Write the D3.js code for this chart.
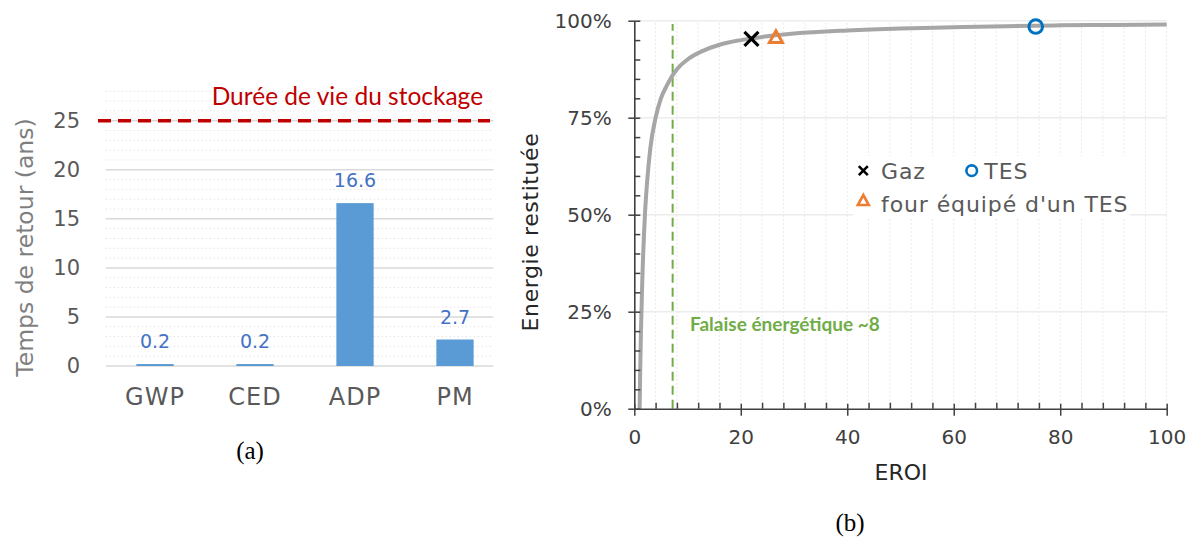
<!DOCTYPE html>
<html><head><meta charset="utf-8">
<script src="https://cdn.jsdelivr.net/npm/d3@7"></script>
<style>body{margin:0;background:#fff;} svg{display:block;}</style>
</head><body><svg id="c" width="1195" height="539"></svg>
<script>
// ---------- DATA ----------
const categories = ["GWP", "CED", "ADP", "PM"];
const paybackYears = [0.2, 0.2, 16.6, 2.7];
const leftTicks = [0, 5, 10, 15, 20, 25];
const lifetimeYears = 25;
const lifetimeLabel = "Durée de vie du stockage";

const eroiCurveX = [1, 1.1, 1.25, 1.5, 2, 2.5, 3, 4, 5, 6, 8, 10, 13, 16, 20, 25, 30, 40, 50, 60, 70, 80, 90, 100];
const eroiCurveY = [0, 9, 20, 33, 50, 60, 67, 75, 80, 83, 87.5, 90, 92.3, 93.8, 95, 96, 96.7, 97.5, 98, 98.3, 98.6, 98.8, 98.9, 99];
const markerNames = ["Gaz", "four équipé d'un TES", "TES"];
const markerEroi = [22, 26.6, 75.4];
const markerEnergy = [95.3, 95.9, 98.5];
const cliffEroi = 7.2;
const cliffLabel = "Falaise énergétique ~8";
const xTicksR = [0, 20, 40, 60, 80, 100];
const yTicksR = [0, 25, 50, 75, 100];

// ---------- SETUP ----------
const svg = d3.select("#c");
const F = "'DejaVu Sans', sans-serif";

// ===== LEFT CHART (a) =====
const yL = d3.scaleLinear().domain([0, 25]).range([366, 120.7]);
const xL = d3.scaleBand().domain(categories).range([105, 505]).paddingInner(0.627).paddingOuter(0.3135);
const gx0 = 105.7, gx1 = 493.3;
const gL = svg.append("g");

gL.selectAll("line.minor").data(d3.range(1, 29).filter(v => v % 5 !== 0)).join("line")
  .attr("x1", gx0).attr("x2", gx1).attr("y1", d => yL(d)).attr("y2", d => yL(d))
  .attr("stroke", "#e4e4e4").attr("stroke-width", 1).attr("stroke-dasharray", "1.5,2.5");
gL.selectAll("line.major").data(leftTicks).join("line")
  .attr("x1", gx0).attr("x2", gx1).attr("y1", d => yL(d)).attr("y2", d => yL(d))
  .attr("stroke", "#d9d9d9").attr("stroke-width", 1.5);

const axL = gL.append("g").attr("transform", "translate(80,0)")
  .call(d3.axisLeft(yL).tickValues(leftTicks).tickSize(0).tickPadding(0));
axL.select(".domain").remove();
axL.selectAll("text").attr("font-family", F).attr("font-size", 21).attr("fill", "#595959").attr("text-anchor", "end");

const axC = gL.append("g").attr("transform", "translate(0,366)")
  .call(d3.axisBottom(xL).tickSize(0).tickPadding(22));
axC.select(".domain").remove();
axC.selectAll("text").attr("font-family", F).attr("font-size", 24).attr("fill", "#595959").attr("letter-spacing", 1);

gL.selectAll("rect.bar").data(categories).join("rect")
  .attr("x", d => xL(d)).attr("width", xL.bandwidth())
  .attr("y", (d, i) => yL(paybackYears[i])).attr("height", (d, i) => yL(0) - yL(paybackYears[i]))
  .attr("fill", "#5b9bd5");
gL.selectAll("text.val").data(categories).join("text")
  .attr("x", d => xL(d) + xL.bandwidth() / 2)
  .attr("y", (d, i) => yL(paybackYears[i]) - 16)
  .attr("text-anchor", "middle").attr("font-family", F).attr("font-size", 19).attr("fill", "#4472c4")
  .text((d, i) => paybackYears[i].toFixed(1));

gL.append("line").attr("x1", 98).attr("x2", 490).attr("y1", yL(lifetimeYears)).attr("y2", yL(lifetimeYears))
  .attr("stroke", "#c00000").attr("stroke-width", 3.5).attr("stroke-dasharray", "13,7");
gL.append("text").attr("x", 211.7).attr("y", 105).attr("font-family", "Lato, sans-serif").attr("font-size", 24.5)
  .attr("fill", "#c00000").text(lifetimeLabel);

gL.append("text").attr("transform", `translate(33,247.5) rotate(-90)`).attr("text-anchor", "middle")
  .attr("font-family", F).attr("font-size", 23.5).attr("fill", "#7f7f7f").text("Temps de retour (ans)");

svg.append("text").attr("x", 250).attr("y", 459).attr("text-anchor", "middle")
  .attr("font-family", "'Liberation Serif', serif").attr("font-size", 25).attr("fill", "#000").text("(a)");

// ===== RIGHT CHART (b) =====
const xR = d3.scaleLinear().domain([0, 100]).range([634.3, 1166.7]);
const yR = d3.scaleLinear().domain([0, 100]).range([408.7, 20.7]);
const gR = svg.append("g");

gR.selectAll("line.vg").data(d3.range(4, 101, 4)).join("line")
  .attr("x1", d => xR(d)).attr("x2", d => xR(d)).attr("y1", yR(0)).attr("y2", yR(100))
  .attr("stroke", "#e2e2e2").attr("stroke-width", 1).attr("stroke-dasharray", "1.5,2.5");
gR.selectAll("line.hg").data(yTicksR.slice(1)).join("line")
  .attr("x1", xR(0)).attr("x2", xR(100)).attr("y1", d => yR(d)).attr("y2", d => yR(d))
  .attr("stroke", "#ececec").attr("stroke-width", 1.5);

gR.append("rect").attr("x", 853).attr("y", 156).attr("width", 277).attr("height", 62).attr("fill", "#fff");

gR.append("line").attr("x1", xR(cliffEroi)).attr("x2", xR(cliffEroi)).attr("y1", yR(0)).attr("y2", 24)
  .attr("stroke", "#70ad47").attr("stroke-width", 2).attr("stroke-dasharray", "9,5");
gR.append("text").attr("x", 690).attr("y", 330.7).attr("font-family", "Lato, sans-serif").attr("font-weight", "bold")
  .attr("font-size", 19).attr("fill", "#70ad47").text(cliffLabel);

const line = d3.line().x(d => xR(d[0])).y(d => yR(d[1])).curve(d3.curveMonotoneX);
gR.append("path").datum(eroiCurveX.map((x, i) => [x, eroiCurveY[i]]))
  .attr("d", line).attr("fill", "none").attr("stroke", "#a6a6a6").attr("stroke-width", 4);

const axisColor = "#404040";
const axB = gR.append("g").attr("transform", `translate(0,${yR(0)})`)
  .call(d3.axisBottom(xR).tickValues(xTicksR).tickSizeInner(7).tickSizeOuter(0).tickPadding(14));
axB.selectAll(".tick line").attr("y1", -5);
const axBm = gR.append("g").attr("transform", `translate(0,${yR(0)})`)
  .call(d3.axisBottom(xR).tickValues(d3.range(4, 100, 4).filter(v => v % 20 !== 0)).tickSizeInner(-6).tickSizeOuter(0).tickFormat(""));
axBm.select(".domain").remove();
const axLr = gR.append("g").attr("transform", `translate(${xR(0)},0)`)
  .call(d3.axisLeft(yR).tickValues(yTicksR).tickSizeInner(6).tickSizeOuter(0).tickPadding(16.6).tickFormat(d => d + "%"));
axLr.selectAll(".tick line").attr("x1", 6);
const axLm = gR.append("g").attr("transform", `translate(${xR(0)},0)`)
  .call(d3.axisLeft(yR).tickValues(d3.range(5, 100, 5).filter(v => v % 25 !== 0)).tickSizeInner(-6).tickSizeOuter(0).tickFormat(""));
axLm.select(".domain").remove();
[axB, axBm, axLr, axLm].forEach(a => {
  a.selectAll("path.domain").attr("stroke", axisColor).attr("stroke-width", 1.6);
  a.selectAll(".tick line").attr("stroke", axisColor).attr("stroke-width", 1.5);
  a.selectAll("text").attr("font-family", F).attr("font-size", 20).attr("fill", "#404040");
});

gR.append("text").attr("x", 901).attr("y", 480).attr("text-anchor", "middle").attr("font-family", F)
  .attr("font-size", 22).attr("fill", "#262626").text("EROI");
gR.append("text").attr("transform", `translate(538,232) rotate(-90)`).attr("text-anchor", "middle")
  .attr("font-family", F).attr("font-size", 22).attr("letter-spacing", 0.6).attr("fill", "#262626").text("Energie  restituée");

function drawX(g, cx, cy, h, w) {
  g.append("path").attr("d", `M${cx - h},${cy - h}L${cx + h},${cy + h}M${cx - h},${cy + h}L${cx + h},${cy - h}`)
    .attr("stroke", "#000").attr("stroke-width", w).attr("fill", "none");
}
function drawTri(g, cx, cy, hw, hh, w) {
  g.append("path").attr("d", `M${cx},${cy - hh}L${cx + hw},${cy + hh}L${cx - hw},${cy + hh}Z`)
    .attr("stroke", "#ed7d31").attr("stroke-width", w).attr("fill", "none").attr("stroke-linejoin", "miter");
}
function drawCirc(g, cx, cy, r, w) {
  g.append("circle").attr("cx", cx).attr("cy", cy).attr("r", r).attr("stroke", "#0070c0").attr("stroke-width", w).attr("fill", "none");
}
drawX(gR, xR(markerEroi[0]), yR(markerEnergy[0]), 7, 3.2);
drawTri(gR, xR(markerEroi[1]), yR(markerEnergy[1]), 6.5, 5.8, 3);
drawCirc(gR, xR(markerEroi[2]), yR(markerEnergy[2]), 6.8, 3);

const lg = gR.append("g");
drawX(lg, 863.3, 170.7, 4.5, 2.6);
lg.append("text").attr("x", 881).attr("y", 178.5).attr("font-family", F).attr("font-size", 22).attr("letter-spacing", 0.9).attr("fill", "#595959").text(markerNames[0]);
drawCirc(lg, 971.7, 170.7, 5.3, 2.6);
lg.append("text").attr("x", 984.3).attr("y", 178.5).attr("font-family", F).attr("font-size", 22).attr("letter-spacing", 0.9).attr("fill", "#595959").text(markerNames[2]);
drawTri(lg, 863.3, 200, 5.5, 5, 2.6);
lg.append("text").attr("x", 881).attr("y", 211.7).attr("font-family", F).attr("font-size", 22).attr("letter-spacing", 0.9).attr("fill", "#595959").text(markerNames[1]);

svg.append("text").attr("x", 850).attr("y", 531).attr("text-anchor", "middle")
  .attr("font-family", "'Liberation Serif', serif").attr("font-size", 25).attr("fill", "#000").text("(b)");
</script></body></html>
